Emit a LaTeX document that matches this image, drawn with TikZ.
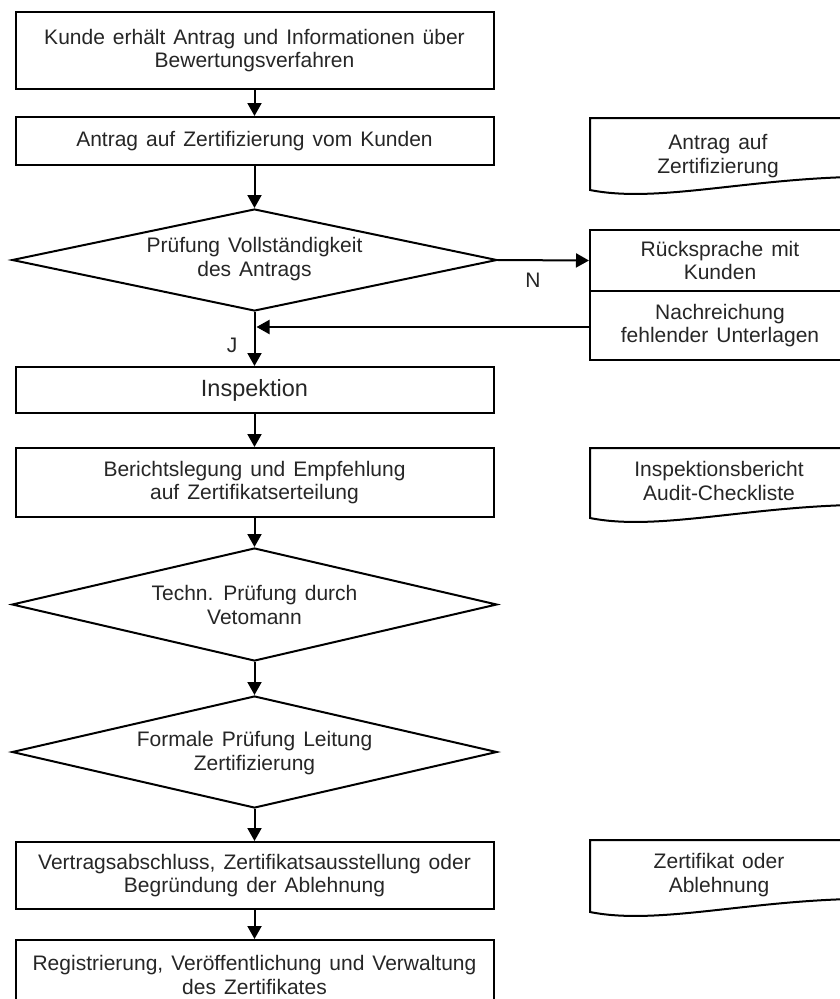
\documentclass[tikz,border=0pt]{standalone}
\usepackage{fontspec}
\setmainfont{Liberation Sans}
\usetikzlibrary{shapes.geometric,arrows.meta}
\newcommand\myfont{\fontsize{21}{23.5}\selectfont\spaceskip=0.38em plus 0.1em\relax}
\begin{document}
\begin{tikzpicture}[x=1pt,y=-1pt,
  txt/.style={align=center, font=\myfont, text=black!85},
  box/.style={draw, line width=2pt, minimum width=478pt, inner sep=0pt, txt},
  dec/.style={draw, diamond, line width=2pt, minimum width=485pt, inner sep=0pt},
  side/.style={draw, line width=2pt, minimum width=260pt, inner sep=0pt, txt},
  docline/.style={line width=2pt},
  conn/.style={line width=2pt, -{Triangle[length=13pt,width=14pt]}}]
\useasboundingbox (0,0) rectangle (840,999);
\fill[white] (0,0) rectangle (840,999);
\clip (0,0) rectangle (840,999);

% main flow
\node[box, minimum height=77pt] (b1) at (254.5,50.5) {Kunde erhält Antrag und Informationen über\\Bewertungsverfahren};
\node[box, minimum height=48pt] (b2) at (254.5,141) {Antrag auf Zertifizierung vom Kunden};
\node[dec, minimum height=102pt] (d1) at (254.5,260) {};
\node[txt] (d1t) at (254.5,259) {Prüfung Vollständigkeit\\des Antrags};
\node[box, minimum height=46pt, font=\fontsize{23.5}{26}\selectfont] (b3) at (254.5,390) {Inspektion};
\node[box, minimum height=69pt] (b4) at (254.5,482.5) {Berichtslegung und Empfehlung\\auf Zertifikatserteilung};
\node[dec, minimum height=113pt] (d2) at (254.5,604.5) {};
\node[txt] (d2t) at (254.5,605) {Techn. Prüfung durch\\Vetomann};
\node[dec, minimum height=112pt] (d3) at (254.5,752) {};
\node[txt] (d3t) at (254.5,753) {Formale Prüfung Leitung\\Zertifizierung};
\node[box, minimum height=67pt] (b5) at (254.5,875.5) {Vertragsabschluss, Zertifikatsausstellung oder\\Begründung der Ablehnung};
\node[box, minimum height=70pt] (b6) at (254.5,975) {Registrierung, Veröffentlichung und Verwaltung\\des Zertifikates};

% side boxes
\node[side, minimum height=61pt] (r1) at (720,260.5) {Rücksprache mit\\Kunden};
\node[side, minimum height=69pt] (r2) at (720,325.5) {Nachreichung\\fehlender Unterlagen};

% documents
\draw[docline] (590,190) -- (590,118) -- (850,118) -- (850,177)
  .. controls (740,180) and (655,203) .. (590,190) -- cycle;
\node[txt] (doc1) at (718,156) {Antrag auf\\Zertifizierung};
\draw[docline] (590,518) -- (590,448) -- (850,448) -- (850,505)
  .. controls (740,508) and (655,531) .. (590,518) -- cycle;
\node[txt] (doc2) at (719,481) {Inspektionsbericht\\Audit-Checkliste};
\draw[docline] (590,912) -- (590,840) -- (850,840) -- (850,899)
  .. controls (740,902) and (655,925) .. (590,912) -- cycle;
\node[txt] (doc3) at (719,875) {Zertifikat oder\\Ablehnung};

% connectors
\draw[conn] (b1.south) -- (b2.north);
\draw[conn] (b2.south) -- (d1.north);
\draw[conn] (d1.south) -- (b3.north);
\draw[conn] (d1.east) -- (r1.west);
\coordinate (jn) at (256.5,327);
\draw[conn] (r2.west |- jn) -- (jn);
\draw[conn] (b3.south) -- (b4.north);
\draw[conn] (b4.south) -- (d2.north);
\draw[conn] (d2.south) -- (d3.north);
\draw[conn] (d3.south) -- (b5.north);
\draw[conn] (b5.south) -- (b6.north);

% labels
\node[txt] (lN) at (533,280) {N};
\node[txt] (lJ) at (232,345) {J};
\end{tikzpicture}
\end{document}
